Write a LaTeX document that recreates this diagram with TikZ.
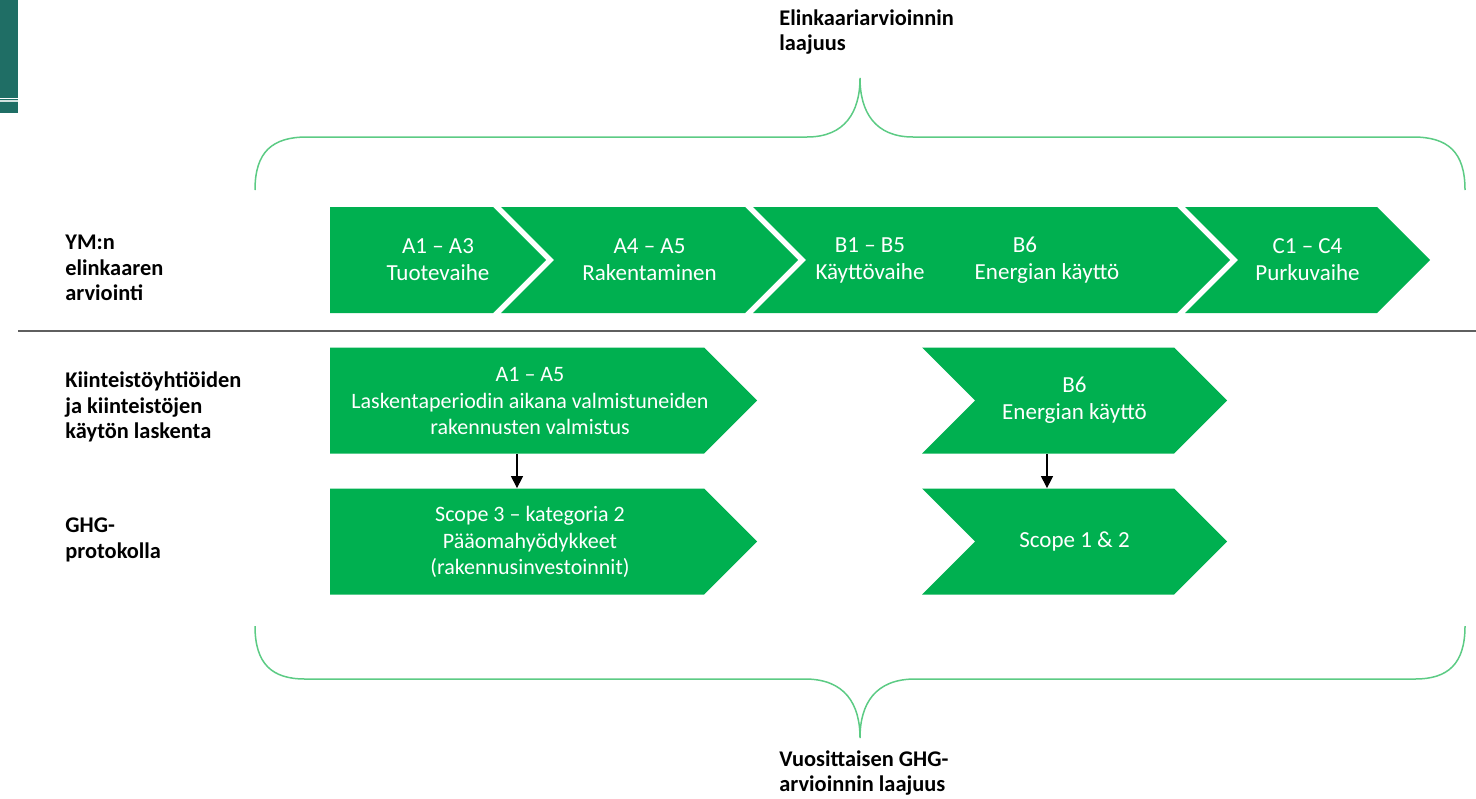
\documentclass[tikz,border=0pt]{standalone}
\usepackage{fontspec}
\setmainfont{Carlito}
\usepackage{tikz}
\usetikzlibrary{arrows.meta}
\usetikzlibrary{shapes.symbols}

\definecolor{phasegreen}{HTML}{00B050}
\definecolor{bracegreen}{HTML}{5CCB84}
\definecolor{cornerteal}{HTML}{1F6E65}
\definecolor{rulegray}{HTML}{5F5F5F}

\begin{document}
\begin{tikzpicture}[x=0.5pt, y=-0.5pt]
	\useasboundingbox (0,0) rectangle (1476,798);
	% corner block and divider
	\fill[cornerteal] (0,0) rectangle (18,113);
	\draw[white, line width=0.6pt] (0,98.5) -- (18,98.5);
	\draw[white!80!cornerteal, line width=0.6pt] (0,101) -- (18,101);
	\draw[rulegray, line width=0.75pt] (18,331) -- (1476,331);
	% braces
	\draw[bracegreen, line width=0.75pt] (255,190) .. controls (255,152) and (272,137) .. (307,137)
		-- (807,137) .. controls (845,137) and (860,112) .. (860,78)
		.. controls (860,112) and (875,137) .. (913,137)
		-- (1413,137) .. controls (1448,137) and (1465,152) .. (1465,190);
	\draw[bracegreen, line width=0.75pt] (255,626) .. controls (255,664) and (272,679) .. (305,679)
		-- (805,679) .. controls (845,679) and (860,704) .. (860,738)
		.. controls (860,704) and (875,679) .. (915,679)
		-- (1415,679) .. controls (1448,679) and (1465,664) .. (1465,626);
	\begin{scope}[every node/.style = {align=left, anchor=west, inner sep=0pt,
			font=\fontsize{11.2}{12.75}\selectfont\bfseries}]
		\node (scopetop) at (779,32) {Elinkaariarvioinnin\\laajuus};
		\node (scopebot) at (779,773) {Vuosittaisen GHG-\\arvioinnin laajuus};
		\node (ymlabel) at (65,268) {YM:n\\elinkaaren\\arviointi};
		\node (kilabel) at (65,407) {Kiinteistöyhtiöiden\\ja kiinteistöjen\\käytön laskenta};
		\node (ghglabel) at (65,540) {GHG-\\protokolla};
	\end{scope}
	\begin{scope}[every node/.style = {shape=signal, signal pointer angle=90, fill=phasegreen,
			text=white, inner sep=0pt, minimum height=53pt, align=center,
			font=\fontsize{11.5}{13.5}\selectfont}]
		\node[minimum width=108pt] (A13) at (411.5,260) {};
		\node[signal from=west, minimum width=148.5pt] (A45) at (649.5,260) {A4 – A5\\Rakentaminen};
		\node[signal from=west, minimum width=238.5pt] (B16) at (991.5,260) {};
		\node[signal from=west, minimum width=122.5pt] (C14) at (1307.5,260) {C1 – C4\\Purkuvaihe};
		\node[minimum width=213.5pt] (A15) at (517,400.5) {};
		\node[signal from=west, minimum width=152.5pt] (B6) at (1074.5,400.5) {B6\\Energian käyttö};
		\node[minimum width=213.5pt] (S3) at (517,541.5) {};
		\node[signal from=west, minimum width=152.5pt] (S12) at (1074.5,541.5) {Scope 1 \& 2};
	\end{scope}
	\begin{scope}[every node/.style = {text=white, align=center, inner sep=0pt,
			font=\fontsize{11.5}{13.5}\selectfont}]
		\node (A13txt) at (438,260) {A1 – A3\\Tuotevaihe};
		\node (B15) at (870,260) {B1 – B5\\Käyttövaihe};
		\node (B6use) at (1047,260) {B6\hspace*{22pt}\\Energian käyttö};
		\node[font=\fontsize{11}{13.4}\selectfont] (A15txt) at (530,401) {A1 – A5\\Laskentaperiodin aikana valmistuneiden\\rakennusten valmistus};
		\node[font=\fontsize{11}{13.4}\selectfont] (S3txt) at (530,542) {Scope 3 – kategoria 2\\Pääomahyödykkeet\\(rakennusinvestoinnit)};
	\end{scope}
	\begin{scope}[>={Triangle[black, length=6pt, width=6pt]},
			every edge/.style={draw=black, line width=0.6pt}]
		\path [->] (A15.south) edge (S3.north);
		\path [->] ([xshift=-13.75pt]B6.south) edge ([xshift=-13.75pt]S12.north);
	\end{scope}
\end{tikzpicture}
\end{document}
